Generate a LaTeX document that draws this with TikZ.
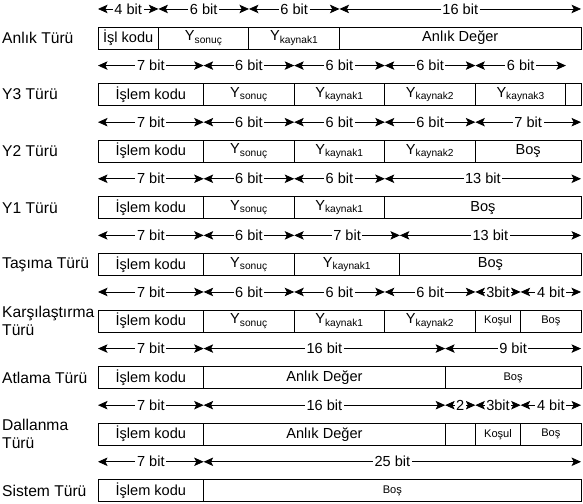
\documentclass[tikz,border=0pt]{standalone}
\usepackage{amsmath}
\usepackage{fontspec}
\setmainfont{Liberation Sans}
\usetikzlibrary{arrows.meta}
\newcommand\bw{0.5026cm}
\newcommand\smtxt[1]{{\fontsize{10.5}{12}\selectfont #1}}

\begin{document}
\begin{tikzpicture}[x=0.0333cm, y=-0.0333cm, font=\fontsize{13.8}{16}\selectfont,
      fld/.style={draw, line width=0.9pt, anchor=west, minimum height=0.733cm,
                  inner sep=0pt, outer sep=0pt},
      rowlbl/.style={anchor=west, align=left, inner sep=0pt, font=\fontsize{14.8}{17}\selectfont},
      bitarr/.style={{Stealth[length=9pt, width=8pt, inset=2pt]}-{Stealth[length=9pt, width=8pt, inset=2pt]},
                     line width=0.75pt},
      bitlbl/.style={midway, fill=white, inner sep=1.5pt}]
      \useasboundingbox (0,0) rectangle (583,503);

      % Anlık türü
      \node[rowlbl] (lbl-anlik) at (2,38) {Anlık Türü};
      \foreach \s/\nb/\txt/\lab [count=\k] in {0/4/{İşl kodu}/{4 bit}, 4/6/{Y$_{\text{sonuç}}$}/{6 bit},
                                               10/6/{Y$_{\text{kaynak1}}$}/{6 bit}, 16/16/{Anlık Değer}/{16 bit}} {
        \node[fld, minimum width=\nb*\bw] (anlik-\k) at ({98+\s*15.094},38) {\txt};
        \draw[bitarr] ([yshift=0.6cm]anlik-\k.north west) -- ([yshift=0.6cm]anlik-\k.north east) node[bitlbl] {\lab};
      }

      % Y3 türü
      \node[rowlbl] (lbl-y3) at (2,94.6) {Y3 Türü};
      \foreach \s/\nb/\txt/\lab [count=\k] in {0/7/{İşlem kodu}/{7 bit}, 7/6/{Y$_{\text{sonuç}}$}/{6 bit},
                                               13/6/{Y$_{\text{kaynak1}}$}/{6 bit}, 19/6/{Y$_{\text{kaynak2}}$}/{6 bit},
                                               25/6/{Y$_{\text{kaynak3}}$}/{6 bit}} {
        \node[fld, minimum width=\nb*\bw] (y3-\k) at ({98+\s*15.094},94.6) {\txt};
        \draw[bitarr] ([yshift=0.6cm]y3-\k.north west) -- ([yshift=0.6cm]y3-\k.north east) node[bitlbl] {\lab};
      }
      \node[fld, minimum width=\bw] (y3-6) at ({98+31*15.094},94.6) {};

      % Y2 türü
      \node[rowlbl] (lbl-y2) at (2,151.2) {Y2 Türü};
      \foreach \s/\nb/\txt/\lab [count=\k] in {0/7/{İşlem kodu}/{7 bit}, 7/6/{Y$_{\text{sonuç}}$}/{6 bit},
                                               13/6/{Y$_{\text{kaynak1}}$}/{6 bit}, 19/6/{Y$_{\text{kaynak2}}$}/{6 bit},
                                               25/7/{Boş}/{7 bit}} {
        \node[fld, minimum width=\nb*\bw] (y2-\k) at ({98+\s*15.094},151.2) {\txt};
        \draw[bitarr] ([yshift=0.6cm]y2-\k.north west) -- ([yshift=0.6cm]y2-\k.north east) node[bitlbl] {\lab};
      }

      % Y1 türü
      \node[rowlbl] (lbl-y1) at (2,207.8) {Y1 Türü};
      \foreach \s/\nb/\txt/\lab [count=\k] in {0/7/{İşlem kodu}/{7 bit}, 7/6/{Y$_{\text{sonuç}}$}/{6 bit},
                                               13/6/{Y$_{\text{kaynak1}}$}/{6 bit}, 19/13/{Boş}/{13 bit}} {
        \node[fld, minimum width=\nb*\bw] (y1-\k) at ({98+\s*15.094},207.8) {\txt};
        \draw[bitarr] ([yshift=0.6cm]y1-\k.north west) -- ([yshift=0.6cm]y1-\k.north east) node[bitlbl] {\lab};
      }

      % Taşıma türü
      \node[rowlbl] (lbl-tasima) at (2,264.4) {Taşıma Türü};
      \foreach \s/\nb/\txt/\lab [count=\k] in {0/7/{İşlem kodu}/{7 bit}, 7/6/{Y$_{\text{sonuç}}$}/{6 bit},
                                               13/7/{Y$_{\text{kaynak1}}$}/{7 bit}, 20/12/{Boş}/{13 bit}} {
        \node[fld, minimum width=\nb*\bw] (tasima-\k) at ({98+\s*15.094},264.4) {\txt};
        \draw[bitarr] ([yshift=0.6cm]tasima-\k.north west) -- ([yshift=0.6cm]tasima-\k.north east) node[bitlbl] {\lab};
      }

      % Karşılaştırma türü
      \node[rowlbl] (lbl-kars) at (2,321) {Karşılaştırma\\Türü};
      \foreach \s/\nb/\txt/\lab [count=\k] in {0/7/{İşlem kodu}/{7 bit}, 7/6/{Y$_{\text{sonuç}}$}/{6 bit},
                                               13/6/{Y$_{\text{kaynak1}}$}/{6 bit}, 19/6/{Y$_{\text{kaynak2}}$}/{6 bit},
                                               25/3/{\smtxt{Koşul}}/{3bit}, 28/4/{\smtxt{Boş}}/{4 bit}} {
        \node[fld, minimum width=\nb*\bw] (kars-\k) at ({98+\s*15.094},321) {\txt};
        \draw[bitarr] ([yshift=0.6cm]kars-\k.north west) -- ([yshift=0.6cm]kars-\k.north east) node[bitlbl] {\lab};
      }

      % Atlama türü
      \node[rowlbl] (lbl-atlama) at (2,377.6) {Atlama Türü};
      \foreach \s/\nb/\txt/\lab [count=\k] in {0/7/{İşlem kodu}/{7 bit}, 7/16/{Anlık Değer}/{16 bit},
                                               23/9/{\smtxt{Boş}}/{9 bit}} {
        \node[fld, minimum width=\nb*\bw] (atlama-\k) at ({98+\s*15.094},377.6) {\txt};
        \draw[bitarr] ([yshift=0.6cm]atlama-\k.north west) -- ([yshift=0.6cm]atlama-\k.north east) node[bitlbl] {\lab};
      }

      % Dallanma türü
      \node[rowlbl] (lbl-dal) at (2,434.2) {Dallanma\\Türü};
      \foreach \s/\nb/\txt/\lab [count=\k] in {0/7/{İşlem kodu}/{7 bit}, 7/16/{Anlık Değer}/{16 bit},
                                               23/2/{}/{2}, 25/3/{\smtxt{Koşul}}/{3bit}, 28/4/{\smtxt{Boş}}/{4 bit}} {
        \node[fld, minimum width=\nb*\bw] (dal-\k) at ({98+\s*15.094},434.2) {\txt};
        \draw[bitarr] ([yshift=0.6cm]dal-\k.north west) -- ([yshift=0.6cm]dal-\k.north east) node[bitlbl] {\lab};
      }

      % Sistem türü
      \node[rowlbl] (lbl-sistem) at (2,490.8) {Sistem Türü};
      \foreach \s/\nb/\txt/\lab [count=\k] in {0/7/{İşlem kodu}/{7 bit}, 7/25/{\smtxt{Boş}}/{25 bit}} {
        \node[fld, minimum width=\nb*\bw] (sistem-\k) at ({98+\s*15.094},490.8) {\txt};
        \draw[bitarr] ([yshift=0.6cm]sistem-\k.north west) -- ([yshift=0.6cm]sistem-\k.north east) node[bitlbl] {\lab};
      }
    \end{tikzpicture}
\end{document}
